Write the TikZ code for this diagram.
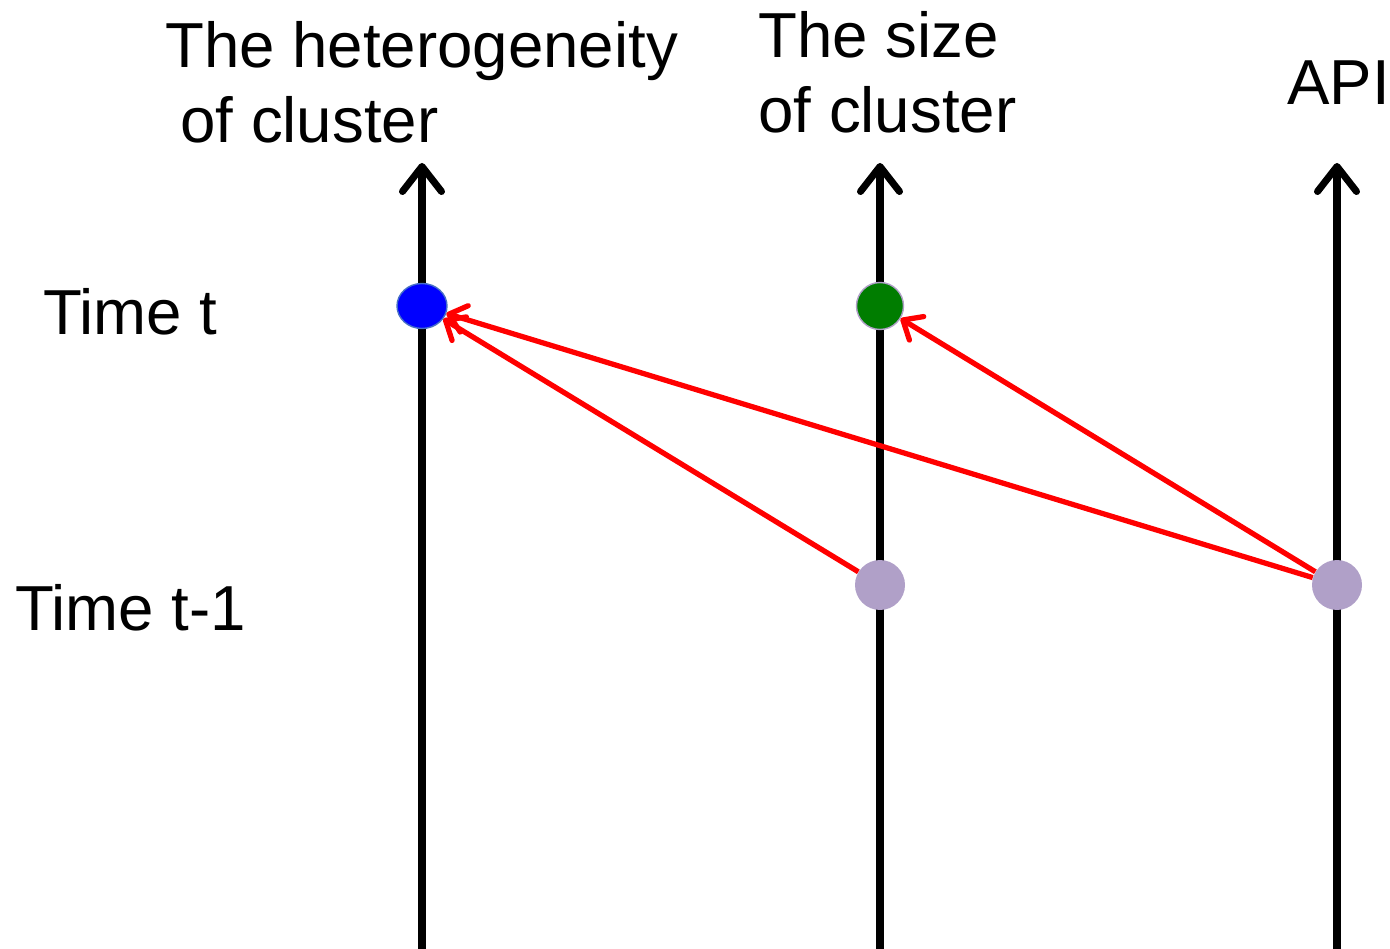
\documentclass[tikz,border=0pt]{standalone}
\usepackage{fontspec}
\setmainfont{Liberation Sans}
\usetikzlibrary{arrows.meta,shapes.geometric}
\definecolor{dotpurple}{RGB}{176,160,200}
\definecolor{dotgreen}{RGB}{0,125,0}
\begin{document}
\begin{tikzpicture}[x=0.02cm,y=-0.02cm,
  axis/.style={line width=4pt,-{Straight Barb[length=0.5cm,width=0.78cm,line cap=round,line join=round]}},
  link/.style={draw=red,line width=3pt,-{Straight Barb[length=0.32cm,width=0.55cm,line cap=round,line join=round]}},
  lbl/.style={anchor=base west,inner sep=0pt,font=\fontsize{36.2}{40}\selectfont},
  dot/.style={circle,inner sep=0pt,minimum size=1cm}]
\useasboundingbox (0,0) rectangle (1390,949);
\coordinate (a1b) at (422,949); \coordinate (a1t) at (422,163);
\coordinate (a2b) at (880,949); \coordinate (a2t) at (880,163);
\coordinate (a3b) at (1337,949); \coordinate (a3t) at (1337,163);
\draw[axis] (a1b) -- (a1t);
\draw[axis] (a2b) -- (a2t);
\draw[axis] (a3b) -- (a3t);
\node[ellipse,inner sep=0pt,minimum width=1cm,minimum height=0.9cm,fill=blue,draw={rgb,255:red,70;green,110;blue,200},line width=0.8pt] (blue) at (422,306) {};
\node[dot,minimum size=0.94cm,fill=dotgreen,draw=dotpurple,line width=0.8pt] (green) at (880,306) {};
\node[dot,fill=dotpurple] (p1) at (880,585) {};
\node[dot,fill=dotpurple] (p2) at (1337,585) {};
\draw[link] (p1) -- (blue);
\draw[link] (p2) -- (blue);
\draw[link] (p2) -- (green);
\node[lbl] (h1) at (165,68) {The heterogeneity};
\node[lbl] (h2) at (180,143) {of cluster};
\node[lbl] (s1) at (758,58) {The size};
\node[lbl] (s2) at (758,133) {of cluster};
\node[lbl] (api) at (1287,105) {API};
\node[lbl] (tt) at (43,335) {Time t};
\node[lbl] (tt1) at (15,630) {Time t-1};
\end{tikzpicture}
\end{document}
